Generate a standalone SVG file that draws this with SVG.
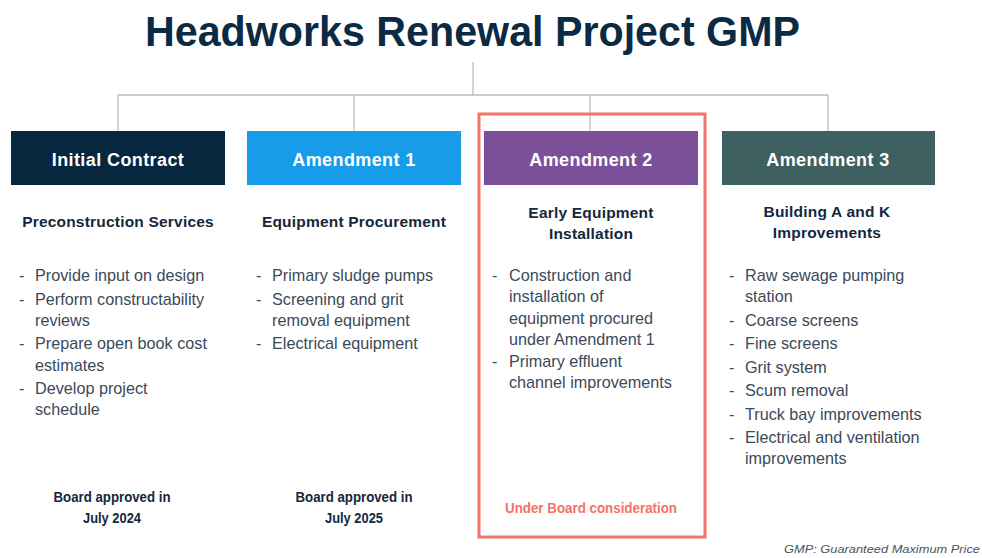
<svg xmlns="http://www.w3.org/2000/svg" width="982" height="558" viewBox="0 0 982 558">
<style>
.title{font-family:"Liberation Sans",Arial,sans-serif;font-weight:bold;font-size:43px;fill:#0B2A43}
.hdr{font-family:"Liberation Sans",Arial,sans-serif;font-weight:bold;font-size:18px;fill:#fff;text-anchor:middle;letter-spacing:0.4px}
.sub{font-family:"Liberation Sans",Arial,sans-serif;font-weight:bold;font-size:15.5px;fill:#13283D;text-anchor:middle;letter-spacing:0.2px}
.li{font-family:"Liberation Sans",Arial,sans-serif;font-size:16.2px;fill:#3B4A5A}
.ft{font-family:"Liberation Sans",Arial,sans-serif;font-weight:bold;font-size:14px;fill:#13283D;text-anchor:middle}
.conn{stroke:#BDBDBD;stroke-width:1.3;fill:none}
</style>
<rect width="982" height="558" fill="#fff"/>
<text class="title" x="145" y="46" textLength="655" lengthAdjust="spacingAndGlyphs">Headworks Renewal Project GMP</text>
<g id="connectors">
<path class="conn" d="M473 62V95M118 95H828M118 95V131M354 95V131M590 95V131M828 95V131"/>
</g>
<rect id="highlight" x="479" y="114" width="226" height="423" fill="none" stroke="#F47367" stroke-width="3"/>
<g id="initial">
<rect x="11" y="131" width="214" height="54" fill="#07273F"/>
<text class="hdr" x="118" y="166">Initial Contract</text>
<text class="sub" x="118" y="227">Preconstruction Services</text>
<g class="li">
<text x="19" y="281">-</text><text x="35" y="281">Provide input on design</text>
<text x="19" y="305">-</text><text x="35" y="305">Perform constructability</text>
<text x="35" y="326">reviews</text>
<text x="19" y="349">-</text><text x="35" y="349">Prepare open book cost</text>
<text x="35" y="371">estimates</text>
<text x="19" y="394">-</text><text x="35" y="394">Develop project</text>
<text x="35" y="415">schedule</text>
</g>
<text class="ft" x="112" y="502" textLength="117" lengthAdjust="spacingAndGlyphs">Board approved in</text>
<text class="ft" x="112" y="523" textLength="58" lengthAdjust="spacingAndGlyphs">July 2024</text>
</g>
<g id="amendment1">
<rect x="247" y="131" width="214" height="54" fill="#169CE9"/>
<text class="hdr" x="354" y="166">Amendment 1</text>
<text class="sub" x="354" y="227">Equipment Procurement</text>
<g class="li">
<text x="256" y="281">-</text><text x="272" y="281">Primary sludge pumps</text>
<text x="256" y="305">-</text><text x="272" y="305">Screening and grit</text>
<text x="272" y="326">removal equipment</text>
<text x="256" y="349">-</text><text x="272" y="349">Electrical equipment</text>
</g>
<text class="ft" x="354" y="502" textLength="117" lengthAdjust="spacingAndGlyphs">Board approved in</text>
<text class="ft" x="354" y="523" textLength="58" lengthAdjust="spacingAndGlyphs">July 2025</text>
</g>
<g id="amendment2">
<rect x="484" y="131" width="214" height="54" fill="#7B5098"/>
<text class="hdr" x="591" y="166">Amendment 2</text>
<text class="sub" x="591" y="218">Early Equipment</text>
<text class="sub" x="591" y="239">Installation</text>
<g class="li">
<text x="492" y="281">-</text><text x="509" y="281">Construction and</text>
<text x="509" y="302">installation of</text>
<text x="509" y="324">equipment procured</text>
<text x="509" y="345">under Amendment 1</text>
<text x="492" y="367">-</text><text x="509" y="367">Primary effluent</text>
<text x="509" y="388">channel improvements</text>
</g>
<text class="ft" x="591" y="513" style="fill:#F47367" textLength="172" lengthAdjust="spacingAndGlyphs">Under Board consideration</text>
</g>
<g id="amendment3">
<rect x="722" y="131" width="213" height="54" fill="#3E6060"/>
<text class="hdr" x="828" y="166">Amendment 3</text>
<text class="sub" x="827" y="217">Building A and K</text>
<text class="sub" x="827" y="238">Improvements</text>
<g class="li">
<text x="729" y="281">-</text><text x="745" y="281">Raw sewage pumping</text>
<text x="745" y="302">station</text>
<text x="729" y="326">-</text><text x="745" y="326">Coarse screens</text>
<text x="729" y="349">-</text><text x="745" y="349">Fine screens</text>
<text x="729" y="373">-</text><text x="745" y="373">Grit system</text>
<text x="729" y="396">-</text><text x="745" y="396">Scum removal</text>
<text x="729" y="420">-</text><text x="745" y="420">Truck bay improvements</text>
<text x="729" y="443">-</text><text x="745" y="443">Electrical and ventilation</text>
<text x="745" y="464">improvements</text>
</g>
</g>
<text x="980" y="553" text-anchor="end" font-family="Liberation Sans, Arial, sans-serif" font-style="italic" font-size="11" fill="#4A5560" textLength="196" lengthAdjust="spacingAndGlyphs">GMP: Guaranteed Maximum Price</text>
</svg>
